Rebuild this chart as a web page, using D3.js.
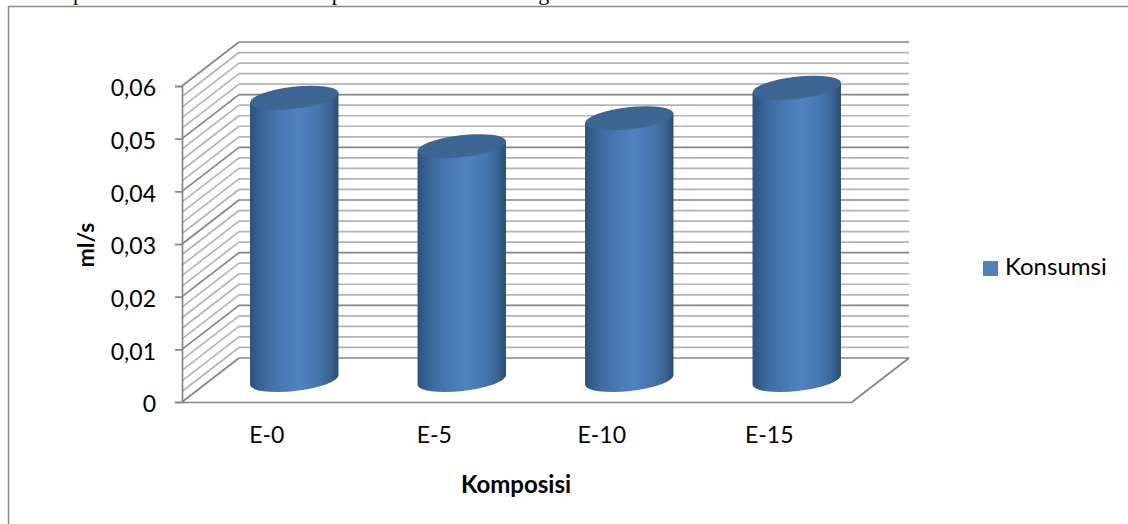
<!DOCTYPE html>
<html>
<head>
<meta charset="utf-8">
<script src="https://cdn.jsdelivr.net/npm/d3@7"></script>
<style>
  html, body { margin: 0; padding: 0; background: #fff; overflow: hidden; }
  svg { display: block; }
  text { font-family: Lato, "Noto Sans", sans-serif; fill: #000; }
</style>
</head>
<body>
<div id="chart"></div>
<script>
const categories = ['E-0', 'E-5', 'E-10', 'E-15'];
const consumption = [0.0536, 0.0444, 0.0497, 0.0555];
const yTicks = [0, 0.01, 0.02, 0.03, 0.04, 0.05, 0.06];
const minorStep = 0.002;
const seriesName = 'Konsumsi';
const xTitle = 'Komposisi';
const yTitle = 'ml/s';
const pageTextPieces = [
    {text: 'hasil pembakaran bahan bakar', x: 26},
    {text: 'dapat dilihat', x: 311},
    {text: 'dalam gambar berikut.', x: 479}
];

const width = 1128, height = 524;
const depth = {x: 57, y: -44};

const svg = d3.select('#chart').append('svg')
    .attr('width', width)
    .attr('height', height);

const x = d3.scaleBand().domain(categories).range([182, 852]);
const y = d3.scaleLinear().domain([0, 0.06]).range([402, 86]);

// gradients for the cylinder body
const defs = svg.append('defs');
const grad = defs.append('linearGradient').attr('id', 'barBody');
[[0, '#2c5180'], [0.14, '#3a679b'], [0.35, '#4877b2'], [0.55, '#5082c2'],
 [0.78, '#4675ad'], [0.92, '#38618f'], [1, '#2b4c74']].forEach(s => {
    grad.append('stop').attr('offset', s[0]).attr('stop-color', s[1]);
});

// chart frame, cut off by the page text above it
svg.append('path')
    .attr('d', `M8.5,${height}V6.5H${width}`)
    .attr('fill', 'none')
    .attr('stroke', '#8a8a8a')
    .attr('stroke-width', 1.5);

// document text line above the chart, only its descenders show
svg.selectAll('.page-text')
    .data(pageTextPieces)
    .enter()
    .append('text')
    .attr('class', 'page-text')
    .attr('x', d => d.x)
    .attr('y', 0)
    .attr('font-size', 22)
    .style('font-family', '"Liberation Serif", serif')
    .text(d => d.text);

// all grid levels, minor every 0.002
const levels = d3.range(0, Math.round(0.06 / minorStep) + 1).map(i => i * minorStep);
const isMajor = v => yTicks.some(t => Math.abs(t - v) < 1e-9);
const gridColor = v => isMajor(v) ? '#858585' : '#b4b4b4';

const walls = svg.append('g').attr('fill', 'none').attr('stroke-width', 1.7);

// side wall
walls.selectAll('.side')
    .data(levels)
    .enter()
    .append('line')
    .attr('class', 'side')
    .attr('x1', x.range()[0])
    .attr('y1', d => y(d))
    .attr('x2', x.range()[0] + depth.x)
    .attr('y2', d => y(d) + depth.y)
    .attr('stroke', gridColor);

// back wall
walls.selectAll('.back')
    .data(levels)
    .enter()
    .append('line')
    .attr('class', 'back')
    .attr('x1', x.range()[0] + depth.x)
    .attr('y1', d => y(d) + depth.y)
    .attr('x2', x.range()[1] + depth.x)
    .attr('y2', d => y(d) + depth.y)
    .attr('stroke', gridColor);

// floor right edge
walls.append('line')
    .attr('x1', x.range()[1]).attr('y1', y(0))
    .attr('x2', x.range()[1] + depth.x).attr('y2', y(0) + depth.y)
    .attr('stroke', '#858585');

// axes
const yAxis = d3.axisLeft(y)
    .tickValues(yTicks)
    .tickSize(7)
    .tickPadding(19)
    .tickFormat(d => d === 0 ? '0' : d3.format('.2f')(d).replace('.', ','));
const yG = svg.append('g').attr('transform', `translate(${x.range()[0]},0)`).call(yAxis);

const xAxis = d3.axisBottom(x).tickSize(0).tickPadding(25);
const xG = svg.append('g').attr('transform', `translate(0,${y(0)})`).call(xAxis);

[yG, xG].forEach(g => {
    g.selectAll('.domain').attr('stroke', '#858585').attr('stroke-width', 1.7);
    g.selectAll('.tick line').attr('stroke', '#858585').attr('stroke-width', 1.7);
    g.selectAll('text').attr('font-size', 23).style('font-family', 'Lato, sans-serif').attr('fill', '#000');
});
yG.selectAll('text').attr('dy', '0.42em');
xG.selectAll('text').attr('dx', 1);

// cylinders stand in the middle of the floor depth
const rx = 44.5, ry = 11, tilt = -6.5;
const barX = d => x(d) + x.bandwidth() / 2 + depth.x / 2;
const barBase = y(0) + depth.y / 2;
const topY = v => y(v) + depth.y / 2;
const endDx = rx * Math.cos(tilt * Math.PI / 180);
const endDy = rx * Math.sin(tilt * Math.PI / 180);

const bars = svg.selectAll('.bar')
    .data(categories.map((c, i) => ({name: c, value: consumption[i]})))
    .enter()
    .append('g')
    .attr('class', 'bar');

bars.append('path')
    .attr('fill', 'url(#barBody)')
    .attr('d', d => {
        const cx = barX(d.name), t = topY(d.value);
        return `M${cx - endDx},${t - endDy}`
            + `L${cx - endDx},${barBase - endDy}`
            + `A${rx},${ry} ${tilt} 0 0 ${cx + endDx},${barBase + endDy}`
            + `L${cx + endDx},${t + endDy}Z`;
    });

bars.append('ellipse')
    .attr('rx', rx)
    .attr('ry', ry)
    .attr('fill', '#3c6591')
    .attr('transform', d => `translate(${barX(d.name)},${topY(d.value)}) rotate(${tilt})`);

// axis titles
svg.append('text')
    .attr('x', 516).attr('y', 493)
    .attr('text-anchor', 'middle')
    .attr('font-size', 24)
    .attr('font-weight', 'bold')
    .text(xTitle);

svg.append('text')
    .attr('transform', 'translate(94,245) rotate(-90)')
    .attr('text-anchor', 'middle')
    .attr('font-size', 23)
    .attr('font-weight', 'bold')
    .text(yTitle);

// legend
svg.append('rect')
    .attr('x', 983).attr('y', 261)
    .attr('width', 15).attr('height', 15)
    .attr('fill', '#4f81bd');
svg.append('text')
    .attr('x', 1005).attr('y', 275)
    .attr('font-size', 24)
    .text(seriesName);
</script>
</body>
</html>
